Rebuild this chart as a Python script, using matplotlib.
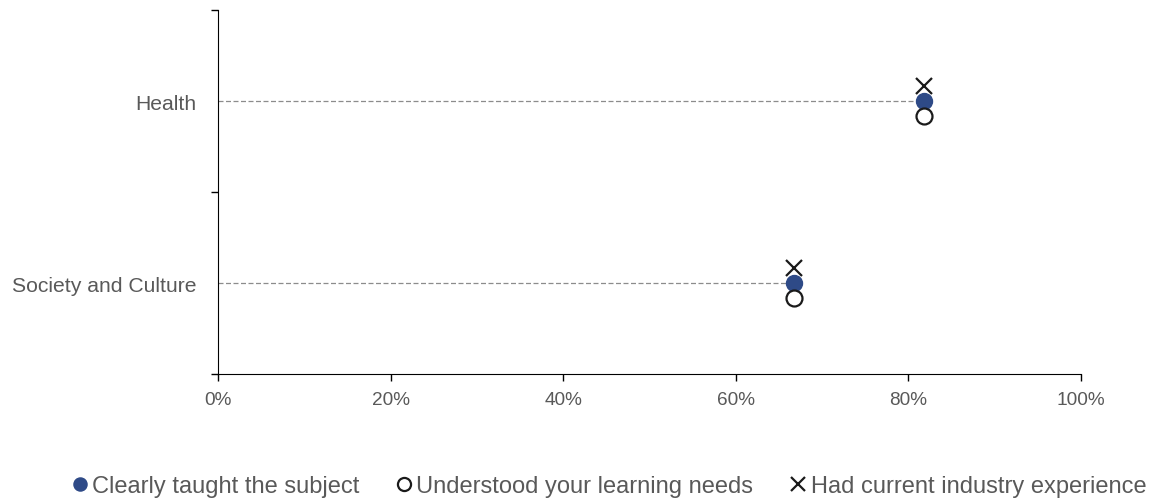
import matplotlib.pyplot as plt
from matplotlib.ticker import PercentFormatter

plt.rcParams['font.family'] = ['Liberation Sans', 'DejaVu Sans']

categories = ["Society and Culture", "Health"]
clearly_taught = [66.7, 81.8]
learning_needs = [66.7, 81.8]
industry_exp = [66.7, 81.8]

navy = '#2E4A87'
grey = '#595959'

fig = plt.figure(figsize=(11.72, 5.02), dpi=100)
ax = fig.add_axes([0.186, 0.253, 0.7364, 0.725])

ypos = list(range(len(categories)))
off = 0.08

# dashed guide lines from axis to the point
for y, v in zip(ypos, clearly_taught):
    ax.plot([0, v], [y, y], color='#8c8c8c', lw=0.9, ls=(0, (4, 2)), zorder=1)

ax.plot(clearly_taught, ypos, 'o', color=navy, ms=11.5, ls='none',
        label='Clearly taught the subject', zorder=3)
ax.plot(learning_needs, [y - off for y in ypos], 'o', mfc='white', mec='#1a1a1a',
        mew=1.6, ms=11.5, ls='none', label='Understood your learning needs', zorder=3)
ax.plot(industry_exp, [y + off for y in ypos], 'x', color='#1a1a1a',
        mew=1.6, ms=11.5, ls='none', label='Had current industry experience', zorder=3)

ax.set_xlim(0, 100)
ax.set_ylim(-0.5, 1.5)
ax.xaxis.set_major_formatter(PercentFormatter(decimals=0))
ax.set_xticks([0, 20, 40, 60, 80, 100])

ax.set_yticks([-0.5, 0.5, 1.5])
ax.set_yticklabels([])
ax.set_yticks(ypos, minor=True)
ax.set_yticklabels(categories, minor=True)
ax.tick_params(axis='y', which='minor', length=0, pad=15.8, labelsize=15.2, labelcolor=grey)
ax.tick_params(axis='y', which='major', length=5, width=1)
ax.tick_params(axis='x', length=5, width=1, labelsize=13.7, labelcolor=grey, pad=7)

for s in ['top', 'right']:
    ax.spines[s].set_visible(False)

handles, labels = ax.get_legend_handles_labels()
leg = fig.legend(handles, labels, loc='center', bbox_to_anchor=(0.52, 0.030), ncol=3,
                 frameon=False, fontsize=17, markerscale=0.82, handlelength=0.6,
                 handletextpad=0.22, columnspacing=1.6, borderpad=0, borderaxespad=0)
for t in leg.get_texts():
    t.set_color(grey)

fig.savefig('out.png', dpi=100)
